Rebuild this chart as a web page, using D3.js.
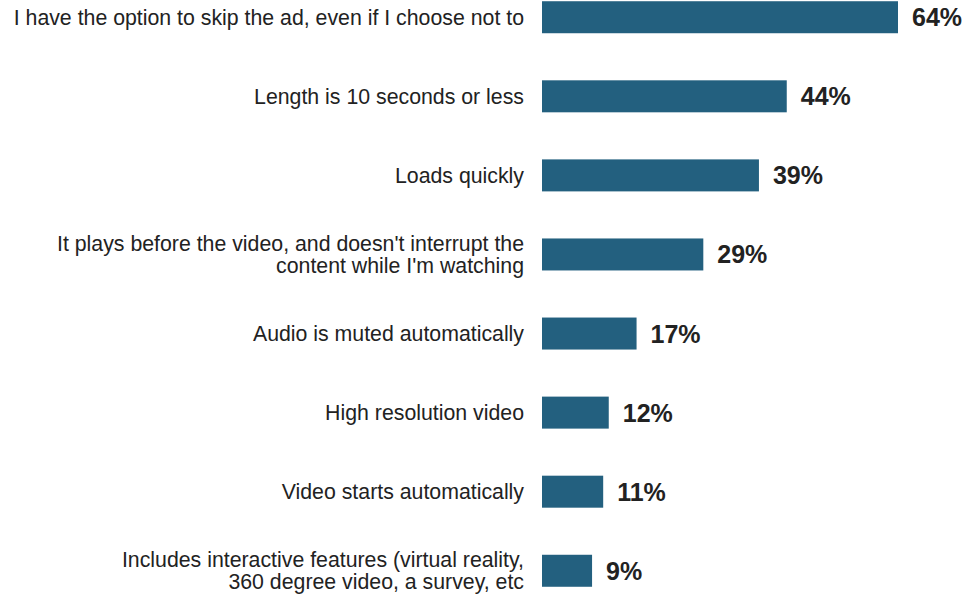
<!DOCTYPE html>
<html>
<head>
<meta charset="utf-8">
<script src="https://cdn.jsdelivr.net/npm/d3@7"></script>
<style>
  body { margin: 0; background: #fff; }
  svg { display: block; }
</style>
</head>
<body>
<div id="chart"></div>
<script>
// chart data
var categories = [
  ["I have the option to skip the ad, even if I choose not to"],
  ["Length is 10 seconds or less"],
  ["Loads quickly"],
  ["It plays before the video, and doesn't interrupt the", "content while I'm watching"],
  ["Audio is muted automatically"],
  ["High resolution video"],
  ["Video starts automatically"],
  ["Includes interactive features (virtual reality,", "360 degree video, a survey, etc"]
];
var values = [64, 44, 39, 29, 17, 12, 11, 9];

var width = 973, height = 599;
var barLeft = 542;

var svg = d3.select("#chart").append("svg")
    .attr("width", width)
    .attr("height", height);

var x = d3.scaleLinear().domain([0, 64]).range([barLeft, 898]);

var y = d3.scaleBand()
    .domain(d3.range(values.length))
    .range([-22.5, 610.5])
    .paddingInner(0.595)
    .paddingOuter(0.3);

// bars
svg.selectAll(".bar")
    .data(values)
    .enter().append("rect")
    .attr("class", "bar")
    .attr("x", x(0))
    .attr("y", function(d, i) { return y(i) + y.bandwidth() / 2 - 16; })
    .attr("width", function(d) { return x(d) - x(0); })
    .attr("height", 32)
    .style("fill", "#23607f");

// value labels
svg.selectAll(".val")
    .data(values)
    .enter().append("text")
    .attr("class", "val")
    .attr("x", function(d) { return x(d) + 14; })
    .attr("y", function(d, i) { return y(i) + y.bandwidth() / 2; })
    .attr("dy", "0.36em")
    .style("font-family", "'Liberation Sans', Arial, sans-serif")
    .style("font-weight", "bold")
    .style("font-size", "25px")
    .style("fill", "#222")
    .text(function(d) { return d + "%"; });

// category labels
var lab = svg.selectAll(".cat")
    .data(categories)
    .enter().append("text")
    .attr("class", "cat")
    .attr("text-anchor", "end")
    .style("font-family", "'Liberation Sans', Arial, sans-serif")
    .style("font-size", "21.3px")
    .style("fill", "#222");

lab.each(function(lines, i) {
    var cy = y(i) + y.bandwidth() / 2;
    var lh = 22;
    var start = cy - (lines.length - 1) * lh / 2;
    d3.select(this).selectAll("tspan")
        .data(lines)
        .enter().append("tspan")
        .attr("x", 524)
        .attr("y", function(d, j) { return start + j * lh; })
        .attr("dy", "0.35em")
        .text(function(d) { return d; });
});
</script>
</body>
</html>
